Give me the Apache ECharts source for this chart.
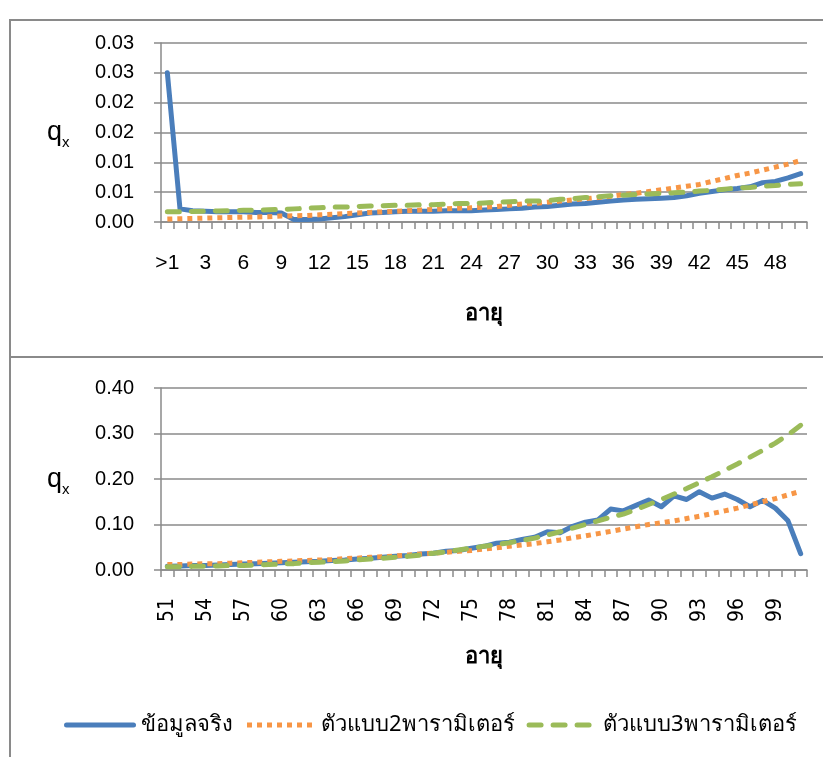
<!DOCTYPE html>
<html>
<head>
<meta charset="utf-8">
<title>qx</title>
<script src="https://cdn.jsdelivr.net/npm/echarts@6/dist/echarts.min.js"></script>
<style>
  html, body { margin: 0; padding: 0; background: #ffffff; }
  #chart { width: 823px; height: 757px; }
</style>
</head>
<body>
<div id="chart"></div>
<script>
// Ages 0-50 (first class is infants under one year)
const youngAges = ['>1','1','2','3','4','5','6','7','8','9','10','11','12','13','14','15','16','17','18','19','20',
  '21','22','23','24','25','26','27','28','29','30','31','32','33','34','35','36','37','38','39','40',
  '41','42','43','44','45','46','47','48','49','50'];
// Ages 51-101
const oldAges = ['51','52','53','54','55','56','57','58','59','60','61','62','63','64','65','66','67','68','69','70',
  '71','72','73','74','75','76','77','78','79','80','81','82','83','84','85','86','87','88','89','90',
  '91','92','93','94','95','96','97','98','99','100','101'];

// Observed death probabilities
const actualYoung = [0.0250,0.0022,0.0019,0.0018,0.0017,0.0017,0.0017,0.0016,0.0016,0.0015,
  0.0004,0.0004,0.0005,0.0007,0.0009,0.0012,0.0015,0.0016,0.0017,0.0018,
  0.0018,0.0018,0.0019,0.0019,0.0019,0.0020,0.0021,0.0022,0.0023,0.0025,
  0.0026,0.0028,0.0030,0.0031,0.0033,0.0035,0.0037,0.0038,0.0039,0.0040,
  0.0041,0.0044,0.0048,0.0051,0.0054,0.0056,0.0059,0.0066,0.0068,0.0074,0.0081];
const actualOld = [0.008,0.009,0.010,0.010,0.011,0.012,0.013,0.014,0.015,0.016,
  0.017,0.018,0.019,0.021,0.022,0.024,0.026,0.028,0.030,0.032,
  0.035,0.037,0.041,0.043,0.048,0.052,0.059,0.061,0.067,0.072,
  0.084,0.082,0.096,0.105,0.110,0.134,0.130,0.142,0.154,0.139,
  0.163,0.155,0.172,0.158,0.167,0.155,0.139,0.153,0.136,0.108,0.036];

// Two-parameter model
const model2Young = [0.0005,0.00055,0.0006,0.00065,0.0007,0.00075,0.0008,0.00085,0.0009,0.0010,
  0.00105,0.0011,0.0012,0.0013,0.0014,0.0015,0.0016,0.0017,0.0018,0.0019,
  0.0020,0.0021,0.0022,0.0023,0.0024,0.0025,0.0026,0.0028,0.0030,0.0031,
  0.0033,0.0035,0.0037,0.0039,0.0041,0.0043,0.0046,0.0048,0.0051,0.0054,
  0.0057,0.0060,0.0063,0.0068,0.0073,0.0078,0.0082,0.0087,0.0092,0.0097,0.0103];
const model2Old = [0.012,0.012,0.013,0.014,0.014,0.015,0.016,0.017,0.018,0.019,
  0.020,0.021,0.022,0.023,0.025,0.026,0.028,0.029,0.031,0.033,
  0.035,0.037,0.039,0.041,0.043,0.046,0.049,0.052,0.055,0.058,
  0.062,0.066,0.071,0.075,0.080,0.085,0.090,0.095,0.100,0.104,
  0.108,0.113,0.118,0.124,0.130,0.136,0.143,0.150,0.157,0.165,0.173];

// Three-parameter model
const model3Young = [0.0017,0.00173,0.00176,0.0018,0.00185,0.0019,0.00195,0.0020,0.00205,0.0021,
  0.0022,0.0023,0.0024,0.0025,0.0025,0.0026,0.0027,0.0027,0.0028,0.0028,
  0.0029,0.0029,0.0030,0.0031,0.0031,0.0032,0.0033,0.0034,0.0035,0.0035,
  0.0036,0.0038,0.0039,0.0041,0.0042,0.0044,0.0045,0.0046,0.0047,0.0048,
  0.0049,0.0050,0.0052,0.0053,0.0055,0.0057,0.0058,0.0060,0.0061,0.0063,0.0064];
const model3Old = [0.007,0.007,0.008,0.008,0.009,0.010,0.010,0.011,0.012,0.013,
  0.014,0.016,0.017,0.018,0.020,0.022,0.024,0.026,0.028,0.030,
  0.033,0.037,0.040,0.044,0.048,0.052,0.056,0.060,0.065,0.070,
  0.077,0.084,0.092,0.100,0.108,0.116,0.123,0.133,0.144,0.155,
  0.167,0.179,0.192,0.205,0.219,0.233,0.248,0.263,0.279,0.297,0.318];

// Tick labels of the upper value axis (two decimals)
const youngTickLabels = ['0.00','0.01','0.01','0.02','0.02','0.03','0.03'];

const seriesNames = ['ข้อมูลจริง', 'ตัวแบบ2พารามิเตอร์', 'ตัวแบบ3พารามิเตอร์'];
const colors = ['#4A7EBB', '#F79646', '#9BBB59'];

const NUM_FONT = '"Liberation Sans", Arial, sans-serif';
const NARROW_FONT = '"Liberation Sans Narrow", "DejaVu Sans Condensed", "Liberation Sans", sans-serif';
const THAI_FONT = 'Tahoma, "Noto Sans", "DejaVu Sans", sans-serif';
const GRID_COLOR = '#8a8a8a';
const LINE_W = 5;

function categoryAxis(gridIndex, data, rotate, margin) {
  return {
    type: 'category',
    gridIndex: gridIndex,
    data: data,
    boundaryGap: true,
    axisLine: { lineStyle: { color: GRID_COLOR, width: 1.5 } },
    axisTick: { show: true, interval: 0, length: 7, lineStyle: { color: GRID_COLOR, width: 1.5 } },
    axisLabel: {
      interval: 2, rotate: rotate, margin: margin,
      color: '#000',
      fontFamily: rotate ? NARROW_FONT : NUM_FONT,
      fontSize: 21
    },
    splitLine: { show: false }
  };
}

function valueAxis(gridIndex, max, interval, formatter) {
  return {
    type: 'value',
    gridIndex: gridIndex,
    min: 0, max: max, interval: interval,
    axisLine: { show: true, lineStyle: { color: GRID_COLOR, width: 1.5 } },
    axisTick: { show: true, length: 7, lineStyle: { color: GRID_COLOR, width: 1.5 } },
    axisLabel: { margin: 27, color: '#000', fontFamily: NUM_FONT, fontSize: 20, formatter: formatter },
    splitLine: { show: true, lineStyle: { color: GRID_COLOR, width: 1.5 } }
  };
}

function lineSeries(idx, axisIndex, data) {
  const styles = [
    { type: 'solid', cap: 'round' },
    { type: [5, 5], cap: 'butt' },
    { type: [12, 12], cap: 'round' }
  ];
  return {
    name: seriesNames[idx],
    type: 'line',
    xAxisIndex: axisIndex, yAxisIndex: axisIndex,
    data: data,
    symbol: 'none',
    smooth: false,
    color: colors[idx],
    lineStyle: Object.assign({ color: colors[idx], width: LINE_W, join: 'round' }, styles[idx])
  };
}

function axisTitleQ(y) {
  return [
    { type: 'text', x: 47, y: y, style: { text: 'q', fontFamily: NUM_FONT, fontSize: 27, fill: '#000', verticalAlign: 'middle' } },
    { type: 'text', x: 62, y: y + 10, style: { text: 'x', fontFamily: NUM_FONT, fontSize: 15, fill: '#000', verticalAlign: 'middle' } }
  ];
}

function axisTitleAge(y) {
  return { type: 'text', x: 484, y: y,
    style: { text: 'อายุ', fontFamily: THAI_FONT, fontSize: 22, fontWeight: 'bold', fill: '#000', align: 'center', verticalAlign: 'middle' } };
}

const chart = echarts.init(document.getElementById('chart'), null, { renderer: 'canvas' });

chart.setOption({
  animation: false,
  backgroundColor: '#ffffff',
  grid: [
    { left: 161, top: 43, width: 646, height: 179 },
    { left: 161, top: 388, width: 646, height: 182 }
  ],
  xAxis: [
    categoryAxis(0, youngAges, 0, 31),
    categoryAxis(1, oldAges, 90, 28)
  ],
  yAxis: [
    valueAxis(0, 0.03, 0.005, (v, i) => youngTickLabels[i]),
    valueAxis(1, 0.4, 0.1, v => v.toFixed(2))
  ],
  legend: {
    left: 59, top: 709,
    itemWidth: 67, itemHeight: 14, itemGap: 12,
    data: seriesNames,
    itemStyle: { opacity: 0 },
    lineStyle: { width: LINE_W },
    textStyle: { color: '#000', fontFamily: THAI_FONT, fontSize: 22, padding: [0, 0, 0, 2] }
  },
  graphic: [
    // panel frames
    { type: 'rect', shape: { x: 10, y: 20, width: 830, height: 337 }, style: { fill: 'none', stroke: '#8a8a8a', lineWidth: 2 }, z: -1 },
    { type: 'rect', shape: { x: 10, y: 357, width: 830, height: 420 }, style: { fill: 'none', stroke: '#8a8a8a', lineWidth: 2 }, z: -1 }
  ].concat(axisTitleQ(133), axisTitleQ(480), [axisTitleAge(314), axisTitleAge(657)]),
  series: [
    lineSeries(0, 0, actualYoung),
    lineSeries(1, 0, model2Young),
    lineSeries(2, 0, model3Young),
    lineSeries(0, 1, actualOld),
    lineSeries(1, 1, model2Old),
    lineSeries(2, 1, model3Old)
  ]
});
</script>
</body>
</html>
